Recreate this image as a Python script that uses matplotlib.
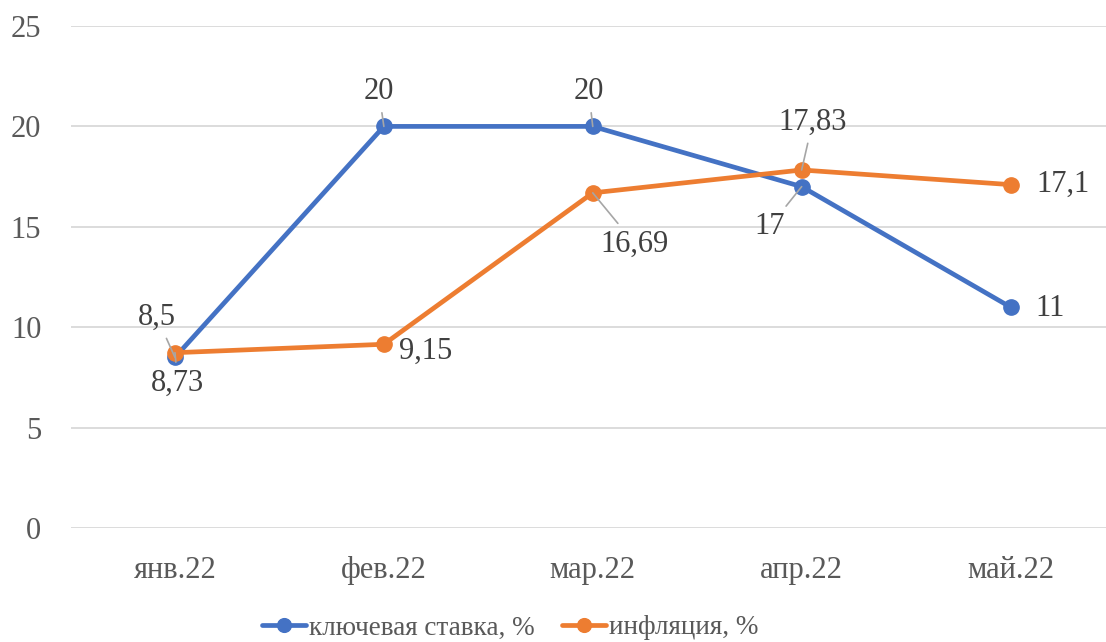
import matplotlib
matplotlib.use("Agg")
import matplotlib.pyplot as plt

months = ["янв.22", "фев.22", "мар.22", "апр.22", "май.22"]
key_rate = [8.5, 20, 20, 17, 11]
inflation = [8.73, 9.15, 16.69, 17.83, 17.1]
series_names = ["ключевая ставка, %", "инфляция, %"]
y_ticks = [0, 5, 10, 15, 20, 25]

BLUE = "#4472C4"
ORANGE = "#ED7D31"
GRID = "#D9D9D9"
TICK_TXT = "#595959"
LABEL_TXT = "#404040"
LEADER = "#A6A6A6"
FS = 22

plt.rcParams["font.family"] = ["Liberation Serif", "DejaVu Serif"]

fig = plt.figure(figsize=(11.06, 6.42), dpi=100)
ax = fig.add_axes([70.5 / 1106, 1 - 528 / 642, 1044.5 / 1106, 502 / 642])

x = list(range(len(months)))
ax.plot(x, key_rate, color=BLUE, lw=3.4, marker="o", ms=11, label=series_names[0],
        solid_capstyle="round", zorder=3)
ax.plot(x, inflation, color=ORANGE, lw=3.4, marker="o", ms=11, label=series_names[1],
        solid_capstyle="round", zorder=4)

ax.set_xlim(-0.5, len(months) - 0.5)
ax.set_ylim(0, 25)
ax.set_yticks(y_ticks)
ax.set_xticks(x)
ax.set_xticklabels(months)
ax.grid(axis="y", color=GRID, lw=1.3)
ax.set_axisbelow(True)
for s in ax.spines.values():
    s.set_visible(False)
ax.tick_params(axis="both", length=0, labelsize=FS, labelcolor=TICK_TXT)
ax.tick_params(axis="y", pad=21)
ax.tick_params(axis="x", pad=20)


def fmt(v):
    return f"{v:g}".replace(".", ",")


# label offsets in pixels and whether a leader line is drawn
key_offsets = [(-18, 40, True), (-5, 35, True), (-4, 35, True), (-32, -40, True), (40, -1, False)]
infl_offsets = [(3, -31, True), (42, -7, False), (42, -51, True), (11, 48, True), (52, 0, False)]

for vals, offs in ((key_rate, key_offsets), (inflation, infl_offsets)):
    for xi, v, (dx, dy, leader) in zip(x, vals, offs):
        kw = {}
        if leader:
            kw["arrowprops"] = dict(arrowstyle="-", color=LEADER, lw=1.2,
                                    shrinkA=3, shrinkB=0)
        ax.annotate(fmt(v), xy=(xi, v), xytext=(dx, dy), textcoords="offset pixels",
                    ha="center", va="center", fontsize=FS, color=LABEL_TXT,
                    zorder=6, annotation_clip=False, **kw)

leg = fig.legend(loc="center", bbox_to_anchor=(510 / 1106, 14 / 642), ncol=2,
                 frameon=False, fontsize=19.5, handlelength=1.65, handletextpad=0.1,
                 columnspacing=1.0, borderaxespad=0, markerscale=0.9)
for t in leg.get_texts():
    t.set_color(TICK_TXT)

fig.savefig("out.png", dpi=100)
